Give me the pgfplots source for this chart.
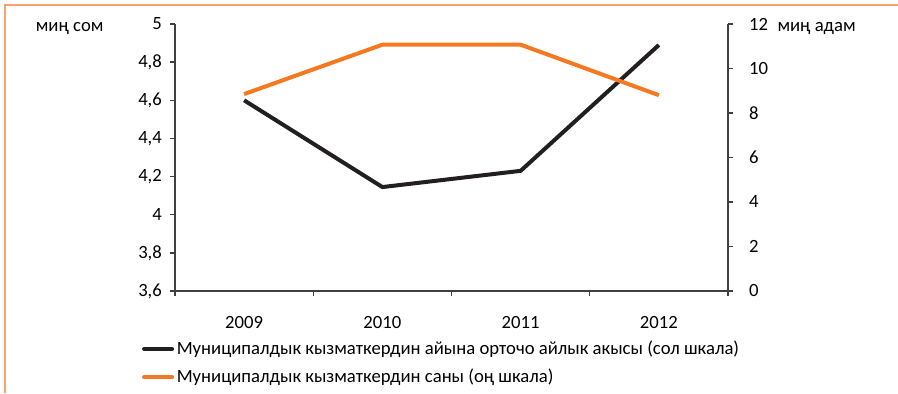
\documentclass[border=0pt]{standalone}
\usepackage{pgfplots}
\pgfplotsset{compat=1.18}
\usepackage{fontspec}
\setmainfont{Carlito}
\definecolor{ink}{HTML}{231F20}
\definecolor{orng}{HTML}{F47920}
\definecolor{frame}{HTML}{F7A46F}
\definecolor{axgray}{HTML}{404040}
\begin{document}
\fontsize{14pt}{17pt}\selectfont
\begin{tikzpicture}[x=0.75pt,y=0.75pt]
\useasboundingbox (0,0) rectangle (898,393);
% outer frame (top and left edges)
\draw[frame, line width=1.5pt] (898,388) -- (5,388) -- (5,0);
\pgfplotsset{
  every axis/.append style={
    scale only axis, width=414.75pt, height=200.25pt,
    at={(131.25pt,76.5pt)}, anchor=south west,
    xmin=-0.5, xmax=3.5,
    axis line style={axgray, line width=1.1pt},
    every tick/.style={axgray, line width=1.1pt},
    major tick length=4pt,
    tick align=outside,
    /pgf/number format/assume math mode=true,
    /pgf/number format/use comma,
    /pgf/number format/fixed,
    /pgf/number format/precision=1,
    tick label style={font=\fontsize{14pt}{17pt}\selectfont},
  }
}
\begin{axis}[
  axis y line*=left, axis x line*=bottom,
  ymin=3.6, ymax=5, ytick={3.6,3.8,4,4.2,4.4,4.6,4.8,5},
  xtick={-0.5,0.5,1.5,2.5,3.5},
  xticklabels={2009,2010,2011,2012},
  x tick label as interval,
  xticklabel style={yshift=-10pt},
  yticklabel style={xshift=-1pt},
  legend style={draw=none, fill=none, at={(-0.06,-0.175)}, anchor=north west,
    legend cell align=left, row sep=5pt, inner sep=0pt,
    font=\fontsize{14pt}{17pt}\selectfont,
    nodes={inner sep=2pt}},
  legend image code/.code={\draw[#1, line cap=round] (0pt,0pt) -- (21pt,0pt);},
]
\addplot[ink, line width=3pt, line join=round] coordinates {(0,4.6) (1,4.145) (2,4.23) (3,4.89)};
\addlegendentry{Муниципалдык кызматкердин айына орточо айлык акысы (сол шкала)}
\addlegendimage{orng, line width=3pt}
\addlegendentry{Муниципалдык кызматкердин саны (оң шкала)}
\end{axis}
\begin{axis}[
  axis y line*=right, axis x line=none,
  ymin=0, ymax=12, ytick={0,2,...,12},
  yticklabel style={xshift=7pt},
]
\addplot[orng, line width=3pt, line join=round] coordinates {(0,8.85) (1,11.07) (2,11.07) (3,8.8)};
\end{axis}
\node[anchor=east] at (110,364) {миң сом};
\node[anchor=west] at (771,364) {миң адам};
\end{tikzpicture}
\end{document}
